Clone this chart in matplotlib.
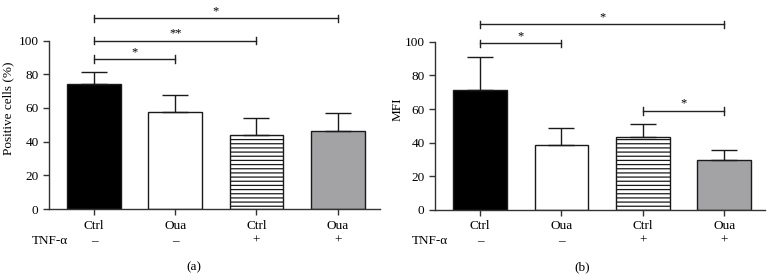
import matplotlib
matplotlib.use("Agg")
import matplotlib.pyplot as plt
from matplotlib.transforms import blended_transform_factory

plt.rcParams['font.family'] = ['Liberation Serif', 'DejaVu Serif']
plt.rcParams['hatch.linewidth'] = 0.9

categories = ["Ctrl", "Oua", "Ctrl", "Oua"]
tnf_signs = ["–", "–", "+", "+"]

pos_means = [74.3, 57.9, 44.1, 46.4]
pos_errs = [7.3, 9.7, 9.9, 10.9]
mfi_means = [71.3, 38.8, 43.4, 29.5]
mfi_errs = [19.4, 9.9, 7.9, 6.3]

# brackets: (start bar, end bar, y, label)
pos_brackets = [(0, 3, 113.2, "*"), (0, 2, 100.0, "**"), (0, 1, 89.0, "*")]
mfi_brackets = [(0, 3, 110.3, "*"), (0, 1, 99.0, "*"), (2, 3, 58.8, "*")]

fills = ["black", "white", "white", "#a3a3a6"]
hatches = [None, None, "----", None]

fig = plt.figure(figsize=(7.73, 2.80), dpi=100)
ax1 = fig.add_axes([49/773, 1-209/280, 331/773, (209-7)/280])
ax2 = fig.add_axes([435/773, 1-210/280, 330/773, (210-8)/280])

def draw(ax, means, errs, brackets, ylabel, xmax, caption, capx, tnfx, lpad):
    x = list(range(len(means)))
    for i in x:
        ax.bar(i, means[i], width=0.66, color=fills[i], edgecolor="#1a1a1a",
               linewidth=1.0, hatch=hatches[i], zorder=2)
    ax.errorbar(x, means, yerr=[[0]*len(errs), errs], fmt="none", ecolor="#1a1a1a",
                elinewidth=1.0, capsize=9.5, capthick=1.0, zorder=3)
    for a, b, y, lab in brackets:
        ax.plot([a, b], [y, y], color="#222222", lw=1.0, clip_on=False)
        for e in (a, b):
            ax.plot([e, e], [y-2.2, y+2.2], color="#222222", lw=1.0, clip_on=False)
        ax.text((a+b)/2, y+0.8, lab, ha="center", va="bottom", fontsize=9)
    ax.set_xlim(-0.553, xmax)
    ax.set_ylim(0, 120)
    ax.spines["top"].set_visible(False)
    ax.spines["right"].set_visible(False)
    ax.spines["left"].set_bounds(0, 100)
    for s in ("left", "bottom"):
        ax.spines[s].set_color("#333333")
        ax.spines[s].set_linewidth(1.0)
    ax.set_yticks([0, 20, 40, 60, 80, 100])
    ax.set_xticks(x)
    ax.set_xticklabels([])
    ax.tick_params(axis="both", colors="#333333", labelcolor="black",
                   labelsize=9.5, length=4, width=1.0)
    ax.set_ylabel(ylabel, fontsize=9.5, labelpad=lpad)
    tr = blended_transform_factory(ax.transData, fig.transFigure)
    for i in x:
        ax.text(i, 1-226/280, categories[i], transform=tr, ha="center",
                va="center", fontsize=9.5)
        ax.text(i, 1-241/280, tnf_signs[i], transform=tr, ha="center",
                va="center", fontsize=9.5)
    ax.text(tnfx, 1-241/280, "TNF-α", transform=tr, ha="center",
            va="center", fontsize=9.5)
    fig.text(capx, 1-267/280, caption, ha="center", va="center", fontsize=9.5)

draw(ax1, pos_means, pos_errs, pos_brackets, "Positive cells (%)", 3.52, "(a)",
     194/773, -0.54, 3)
draw(ax2, mfi_means, mfi_errs, mfi_brackets, "MFI", 3.5, "(b)",
     582/773, -0.61, 1)

fig.savefig("out.png", dpi=100)
